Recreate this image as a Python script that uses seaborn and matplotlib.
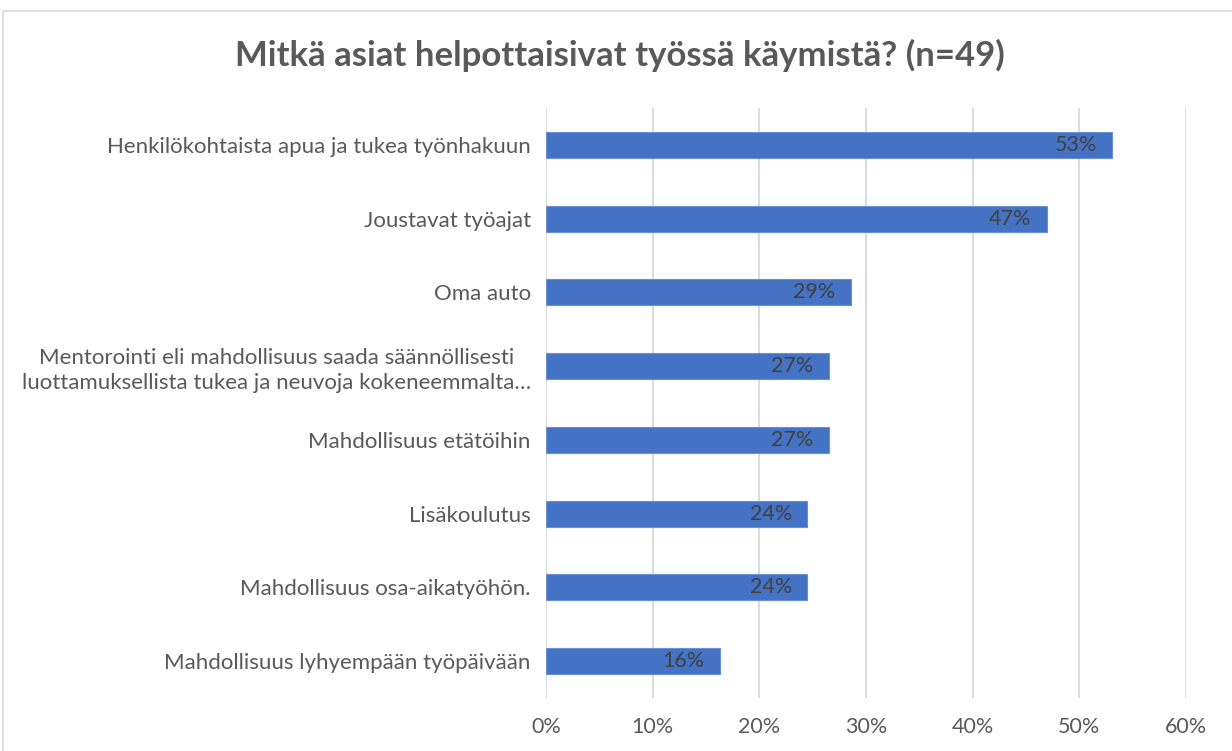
import matplotlib
matplotlib.use("Agg")
import matplotlib.pyplot as plt
import seaborn as sns
import pandas as pd
from matplotlib.patches import Rectangle
from matplotlib.ticker import FuncFormatter

categories = [
    "Henkilökohtaista apua ja tukea työnhakuun",
    "Joustavat työajat",
    "Oma auto",
    "Mentorointi eli mahdollisuus saada säännöllisesti\nluottamuksellista tukea ja neuvoja kokeneemmalta…",
    "Mahdollisuus etätöihin",
    "Lisäkoulutus",
    "Mahdollisuus osa-aikatyöhön.",
    "Mahdollisuus lyhyempään työpäivään",
]
values = [0.5306, 0.4694, 0.2857, 0.2653, 0.2653, 0.2449, 0.2449, 0.1633]
value_labels = ["53%", "47%", "29%", "27%", "27%", "24%", "24%", "16%"]
xticks = [0, 0.1, 0.2, 0.3, 0.4, 0.5, 0.6]
title = "Mitkä asiat helpottaisivat työssä käymistä? (n=49)"

sns.set_theme(style="white")
plt.rcParams["font.family"] = ["Lato", "DejaVu Sans"]

df = pd.DataFrame({"cat": categories, "val": values})

fig = plt.figure(figsize=(12.32, 7.51), dpi=100)
ax = fig.add_axes([546 / 1232, 1 - 698 / 751, (1186 - 546) / 1232, (698 - 108) / 751])

sns.barplot(data=df, x="val", y="cat", orient="h", color="#4472C4",
            width=0.355, saturation=1, edgecolor="#6a8fd6", linewidth=0.8, ax=ax)

ax.set_xlim(0, 0.6)
ax.set_ylim(len(categories) - 0.5, -0.5)
ax.set_xticks(xticks)
ax.xaxis.set_major_formatter(FuncFormatter(lambda v, p: f"{v*100:.0f}%"))
ax.grid(axis="x", color="#d9d9d9", linewidth=1.3)
ax.set_axisbelow(True)
for s in ax.spines.values():
    s.set_visible(False)
ax.set_xlabel("")
ax.set_ylabel("")
ax.tick_params(axis="x", length=0, pad=14, labelsize=15.5, labelcolor="#595959")
ax.tick_params(axis="y", length=0, pad=11, labelsize=16, labelcolor="#595959")
for lbl in ax.get_yticklabels():
    lbl.set_horizontalalignment("right")
    lbl.set_multialignment("center")
    lbl.set_linespacing(1.3)

for i, (v, t) in enumerate(zip(values, value_labels)):
    ax.annotate(t, xy=(v, i), xytext=(-11, 0), textcoords="offset points",
                ha="right", va="center", fontsize=15.5, color="#404040")

fig.text(620 / 1232, 1 - 55 / 751, title, ha="center", va="center",
         fontsize=25, fontweight="bold", color="#595959")

fig.patches.append(Rectangle((3 / 1232, -0.05), 1.2, 1 - 11 / 751 + 0.05,
                             transform=fig.transFigure, fill=False,
                             edgecolor="#d9d9d9", linewidth=1.2))

fig.savefig("out.png", dpi=100)
